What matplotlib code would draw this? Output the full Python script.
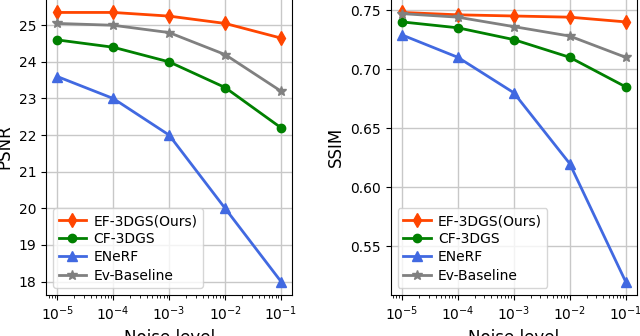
import matplotlib
matplotlib.use('Agg')
from matplotlib import pyplot as plt

noise = [1e-5, 1e-4, 1e-3, 1e-2, 1e-1]
labels = ['EF-3DGS(Ours)', 'CF-3DGS', 'ENeRF', 'Ev-Baseline']

psnr_ef = [25.35, 25.35, 25.25, 25.05, 24.65]
psnr_cf = [24.6, 24.4, 24.0, 23.3, 22.2]
psnr_enerf = [23.6, 23.0, 22.0, 20.0, 18.0]
psnr_ev = [25.05, 25.0, 24.8, 24.2, 23.2]

ssim_ef = [0.748, 0.746, 0.745, 0.744, 0.740]
ssim_cf = [0.740, 0.735, 0.725, 0.710, 0.685]
ssim_enerf = [0.729, 0.710, 0.680, 0.620, 0.520]
ssim_ev = [0.747, 0.744, 0.736, 0.728, 0.710]

STYLES = [
    dict(color='orangered', marker='d', markersize=7),
    dict(color='green', marker='o', markersize=6),
    dict(color='royalblue', marker='^', markersize=7),
    dict(color='gray', marker='*', markersize=7),
]

matplotlib.rcParams.update({
    'xtick.labelsize': 10,
    'ytick.labelsize': 10,
    'axes.labelsize': 12,
    'legend.fontsize': 10,
})

fig, (ax1, ax2) = plt.subplots(1, 2, figsize=(6.4, 3.36), dpi=100)

panels = [
    (ax1, [psnr_ef, psnr_cf, psnr_enerf, psnr_ev], 'PSNR'),
    (ax2, [ssim_ef, ssim_cf, ssim_enerf, ssim_ev], 'SSIM'),
]
for ax, series, ylabel in panels:
    for vals, label, style in zip(series, labels, STYLES):
        ax.plot(noise, vals, label=label, linewidth=2, **style)
    ax.set_xscale('log')
    ax.set_xticks(noise)
    ax.grid(True, color='#c8c8c8', linewidth=1)
    ax.set_xlabel('Noise level')
    ax.set_ylabel(ylabel)
    ax.legend(loc='lower left', labelspacing=0.3, handletextpad=0.5)

ax2.set_yticks([0.55, 0.60, 0.65, 0.70, 0.75])
ax2.set_yticklabels(['0.55', '0.60', '0.65', '0.70', '0.75'])

plt.subplots_adjust(left=0.072, right=0.995, bottom=0.122, top=1.003, wspace=0.40)
plt.savefig('out.png', dpi=100)
